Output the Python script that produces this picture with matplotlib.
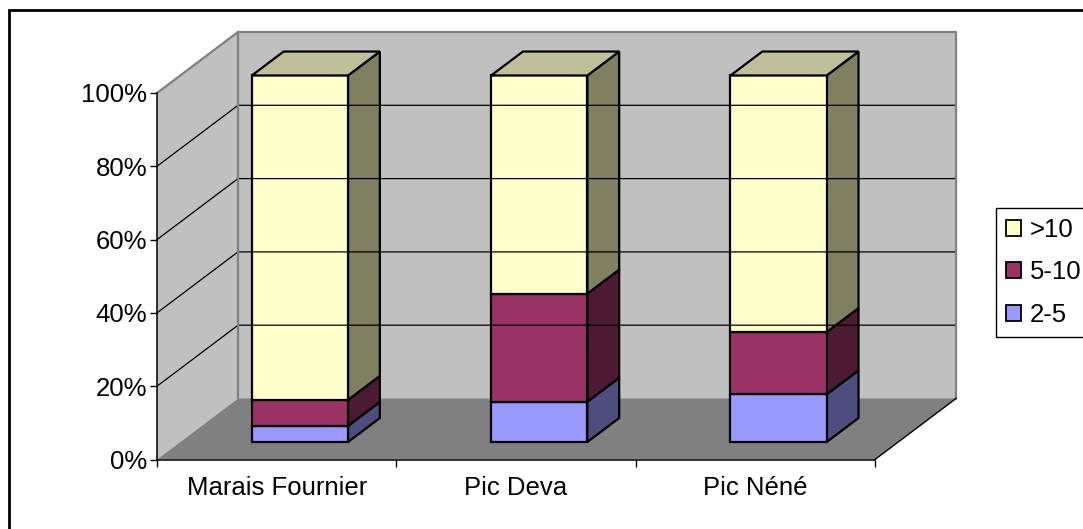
import matplotlib
matplotlib.use("Agg")
import matplotlib.pyplot as plt
from matplotlib.patches import Polygon, Patch, Rectangle

plt.rcParams['font.family'] = ['Liberation Sans', 'DejaVu Sans']

# Data (percent of each site)
sites = ['Marais Fournier', 'Pic Deva', 'Pic Néné']
low = [4.4, 11.0, 13.0]    # 2-5
mid = [7.1, 29.5, 17.0]    # 5-10
high = [88.5, 59.5, 70.0]  # >10
series_names = ['2-5', '5-10', '>10']
y_ticks = [0, 20, 40, 60, 80, 100]

W, H = 1083, 529
DEPTH_X = 81 / (718 / 3)   # depth of the box in x units
DEPTH_Y = 61 / 3.665       # depth of the box in percent units
BAR_W = 0.402
BAR_D0, BAR_D1 = 0.287, 0.68

front_cols = ['#9999FF', '#993366', '#FFFFCC']
side_cols = ['#4D4D80', '#4D1A33', '#808060']
top_col = '#BFBF99'


def proj(x, y, d):
    """Front-plane coordinates of a point at depth d (0 front, 1 back)."""
    return (x + d * DEPTH_X, y + d * DEPTH_Y)


def face(ax, pts, color, ec='black', lw=1.6):
    ax.add_patch(Polygon(pts, closed=True, facecolor=color, edgecolor=ec,
                         linewidth=lw, clip_on=False, joinstyle='miter'))


fig = plt.figure(figsize=(W / 100, H / 100), dpi=100)
# chart area border, only left and top fall inside the picture
fig.add_artist(Rectangle((8.5 / W, -0.05), 1.1, 1.05 - 10 / H, transform=fig.transFigure,
                         facecolor='white', edgecolor='black', linewidth=2, zorder=-1))

ax = fig.add_axes([157 / W, (H - 459.5) / H, 718 / W, 366.5 / H])
ax.set_xlim(0, 3)
ax.set_ylim(0, 100)
ax.patch.set_visible(False)

# Walls and floor
face(ax, [proj(0, 0, 0), proj(0, 100, 0), proj(0, 100, 1), proj(0, 0, 1)], '#C0C0C0', ec='none')
face(ax, [proj(0, 0, 1), proj(0, 100, 1), proj(3, 100, 1), proj(3, 0, 1)], '#C0C0C0', ec='none')
face(ax, [proj(0, 0, 0), proj(3, 0, 0), proj(3, 0, 1), proj(0, 0, 1)], '#808080', ec='none')

# Gridlines
for v in y_ticks[1:-1]:
    xs, ys = zip(proj(0, v, 0), proj(0, v, 1), proj(3, v, 1))
    ax.plot(xs, ys, color='black', lw=0.9, clip_on=False)

# Wall edges
xs, ys = zip(proj(0, 100, 0), proj(0, 100, 1), proj(3, 100, 1), proj(3, 0, 1))
ax.plot(xs, ys, color='#808080', lw=1.6, clip_on=False)
xs, ys = zip(proj(0, 100, 1), proj(0, 0, 1))
ax.plot(xs, ys, color='#808080', lw=1.6, clip_on=False)
xs, ys = zip(proj(3, 0, 0), proj(3, 0, 1))
ax.plot(xs, ys, color='black', lw=1.0, clip_on=False)

# Stacked 3D bars
for i in range(len(sites)):
    x0 = i + 0.5 - BAR_W / 2
    x1 = i + 0.5 + BAR_W / 2
    bottom = 0
    for vals, fc, sc in zip([low, mid, high], front_cols, side_cols):
        top = bottom + vals[i]
        face(ax, [proj(x1, bottom, BAR_D0), proj(x1, bottom, BAR_D1),
                  proj(x1, top, BAR_D1), proj(x1, top, BAR_D0)], sc)
        face(ax, [proj(x0, bottom, BAR_D0), proj(x1, bottom, BAR_D0),
                  proj(x1, top, BAR_D0), proj(x0, top, BAR_D0)], fc)
        bottom = top
    face(ax, [proj(x0, bottom, BAR_D0), proj(x1, bottom, BAR_D0),
              proj(x1, bottom, BAR_D1), proj(x0, bottom, BAR_D1)], top_col)

# Axes
for s in ['top', 'right']:
    ax.spines[s].set_visible(False)
for s in ['left', 'bottom']:
    ax.spines[s].set_linewidth(1.1)
ax.set_yticks(y_ticks)
ax.set_yticklabels([f'{v}%' for v in y_ticks], fontsize=18.5)
ax.set_xticks([0, 1, 2, 3])
ax.set_xticklabels([])
ax.set_xticks([0.5, 1.5, 2.5], minor=True)
ax.set_xticklabels(sites, minor=True, fontsize=18.5)
ax.tick_params(axis='x', which='minor', length=0, pad=12)
ax.tick_params(axis='both', which='major', length=5, width=1.0)
ax.tick_params(axis='y', pad=2)

# Legend
handles = [Patch(facecolor=c, edgecolor='black', linewidth=1.3, label=n)
           for c, n in zip(front_cols[::-1], series_names[::-1])]
fig.legend(handles=handles, loc='upper left', bbox_to_anchor=(996 / W, (H - 208) / H),
           fontsize=18.5, fancybox=False, framealpha=1, edgecolor='black', borderaxespad=0,
           handlelength=0.58, handleheight=0.58, handletextpad=0.35, labelspacing=0.72, borderpad=0.38)

fig.savefig('out.png', dpi=100)
